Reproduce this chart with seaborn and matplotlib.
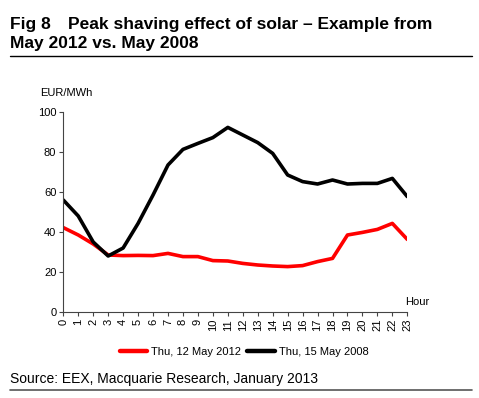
import matplotlib
matplotlib.use("Agg")
import matplotlib.pyplot as plt
import seaborn as sns
import pandas as pd
from matplotlib.lines import Line2D

hours = list(range(24))
tick_labels = [str(h) for h in hours]
red_2012 = [42.2, 38.5, 34.0, 28.5, 28.2, 28.3, 28.2, 29.3, 27.7, 27.7, 25.7, 25.5,
            24.3, 23.5, 23.0, 22.7, 23.2, 25.2, 26.8, 38.5, 39.8, 41.3, 44.3, 36.3]
black_2008 = [56.0, 48.0, 35.0, 28.0, 32.0, 44.3, 58.5, 73.5, 81.3, 84.3, 87.2, 92.3,
              88.5, 84.7, 79.3, 68.5, 65.2, 64.0, 66.0, 64.0, 64.3, 64.3, 66.8, 57.7]
series_names = ["Thu, 12 May 2012", "Thu, 15 May 2008"]

df = pd.DataFrame({
    "Hour": hours * 2,
    "Price": red_2012 + black_2008,
    "Series": [series_names[0]] * 24 + [series_names[1]] * 24,
})

sns.set_style("ticks")
plt.rcParams["font.family"] = ["Liberation Sans", "DejaVu Sans"]
plt.rcParams["text.color"] = "black"
plt.rcParams["xtick.color"] = "black"
plt.rcParams["ytick.color"] = "black"

W, H = 479, 398
fig = plt.figure(figsize=(W / 100, H / 100), dpi=100)
ax = fig.add_axes([63.3 / W, 1 - 312 / H, (407.3 - 63.3) / W, 200 / H])

sns.lineplot(data=df, x="Hour", y="Price", hue="Series",
             palette={series_names[0]: "#ff0000", series_names[1]: "#000000"},
             linewidth=2.6, ax=ax, legend=False)
for ln in ax.lines:
    ln.set_solid_joinstyle("round")
    ln.set_solid_capstyle("round")

ax.set_xlim(0, 23)
ax.set_ylim(0, 100)
ax.set_xticks(hours)
ax.set_xticklabels(tick_labels, rotation=90, fontsize=8)
ax.set_yticks([0, 20, 40, 60, 80, 100])
ax.tick_params(axis="y", labelsize=8, length=3, width=0.8, color="#444444",
               labelcolor="black", pad=2)
ax.tick_params(axis="x", length=3, width=0.8, color="#444444",
               labelcolor="black", pad=2)
ax.set_xlabel("")
ax.set_ylabel("")
sns.despine(ax=ax)
for s in ("left", "bottom"):
    ax.spines[s].set_color("#444444")
    ax.spines[s].set_linewidth(0.8)

# texts
fig.text(10 / W, 1 - 29 / H, "Fig 8", fontsize=12.5, fontweight="bold", va="baseline")
fig.text(68 / W, 1 - 29 / H, "Peak shaving effect of solar \u2013 Example from",
         fontsize=12.5, fontweight="bold", va="baseline")
fig.text(10 / W, 1 - 48 / H, "May 2012 vs. May 2008", fontsize=12.5,
         fontweight="bold", va="baseline")
fig.add_artist(Line2D([10 / W, 472 / W], [1 - 56 / H, 1 - 56 / H],
                      color="black", linewidth=1.0))
fig.text(40 / W, 1 - 96 / H, "EUR/MWh", fontsize=8, va="baseline")
fig.text(405 / W, 1 - 305 / H, "Hour", fontsize=8, va="baseline")

# legend
handles = [Line2D([], [], color="#ff0000", linewidth=3.2),
           Line2D([], [], color="#000000", linewidth=3.2)]
fig.legend(handles, series_names, loc="center", bbox_to_anchor=(244 / W, 1 - 352 / H),
           ncol=2, frameon=False, fontsize=8, handlelength=2.5, handletextpad=0.3,
           columnspacing=0.6)

fig.text(10 / W, 1 - 383 / H, "Source: EEX, Macquarie Research, January 2013",
         fontsize=10, va="baseline")
fig.add_artist(Line2D([10 / W, 472 / W], [1 - 390 / H, 1 - 390 / H],
                      color="#555555", linewidth=1.2))

fig.savefig("out.png", dpi=100)
